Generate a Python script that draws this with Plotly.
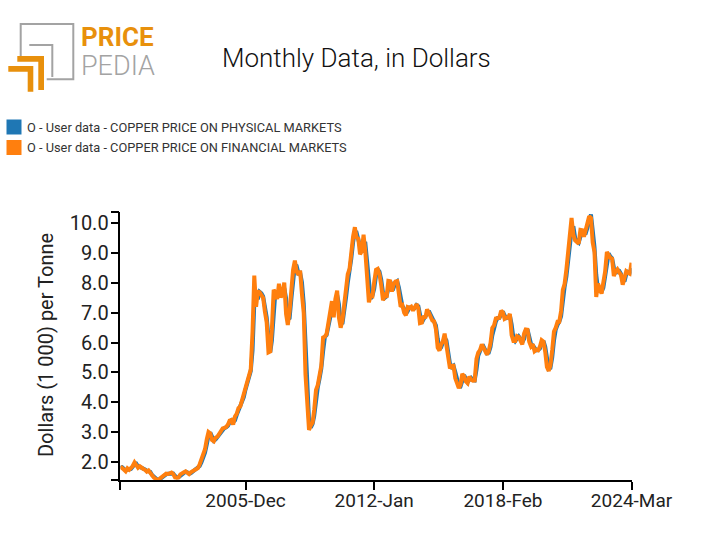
import plotly.graph_objects as go
import pandas as pd

W, H = 712, 555

# ---------------- data (thousand USD per tonne), monthly 2000-Jan .. 2024-Mar
months = pd.date_range("2000-01-01", "2024-03-01", freq="MS")

financial = [
    1.84, 1.80, 1.74, 1.68, 1.78, 1.73, 1.79, 1.86, 1.98, 1.90, 1.80, 1.85,
    1.78, 1.76, 1.73, 1.67, 1.71, 1.61, 1.52, 1.47, 1.43, 1.38, 1.42, 1.47,
    1.50, 1.56, 1.60, 1.59, 1.60, 1.64, 1.59, 1.48, 1.47, 1.48, 1.58, 1.60,
    1.65, 1.68, 1.62, 1.59, 1.65, 1.69, 1.71, 1.76, 1.79, 1.92, 2.06, 2.20,
    2.42, 2.76, 3.00, 2.95, 2.73, 2.69, 2.81, 2.84, 2.93, 3.04, 3.12, 3.14,
    3.17, 3.25, 3.38, 3.40, 3.25, 3.52, 3.61, 3.80, 3.86, 4.06, 4.27, 4.58,
    4.73, 4.98, 5.10, 6.38, 8.25, 7.20, 7.71, 7.69, 7.60, 7.50, 7.03, 6.68,
    5.67, 5.70, 6.45, 7.77, 7.66, 7.46, 7.97, 7.51, 7.65, 8.01, 6.96, 6.59,
    7.06, 7.89, 8.44, 8.75, 8.38, 8.27, 8.41, 7.63, 6.99, 4.93, 3.72, 3.07,
    3.22, 3.32, 3.75, 4.41, 4.57, 5.01, 5.22, 6.17, 6.20, 6.29, 6.68, 6.98,
    7.39, 6.85, 7.46, 7.74, 6.84, 6.50, 6.74, 7.28, 7.71, 8.29, 8.47, 9.15,
    9.56, 9.87, 9.53, 9.49, 8.96, 9.07, 9.62, 9.04, 8.30, 7.35, 7.58, 7.56,
    8.04, 8.44, 8.47, 8.29, 7.92, 7.42, 7.58, 7.51, 8.07, 8.06, 7.71, 7.96,
    8.05, 8.06, 7.65, 7.20, 7.25, 7.00, 6.91, 7.19, 7.16, 7.20, 7.07, 7.22,
    7.29, 7.15, 6.65, 6.67, 6.89, 6.82, 7.11, 7.00, 6.87, 6.74, 6.71, 6.45,
    5.83, 5.73, 5.94, 6.04, 6.30, 5.83, 5.46, 5.13, 5.22, 5.22, 4.80, 4.64,
    4.47, 4.60, 4.95, 4.87, 4.70, 4.64, 4.86, 4.75, 4.72, 4.73, 5.45, 5.66,
    5.75, 5.94, 5.82, 5.68, 5.60, 5.72, 5.98, 6.49, 6.58, 6.81, 6.83, 6.83,
    7.07, 7.01, 6.80, 6.84, 6.83, 6.96, 6.25, 6.05, 6.05, 6.22, 6.19, 6.07,
    5.94, 6.30, 6.44, 6.43, 6.03, 5.87, 5.94, 5.71, 5.76, 5.74, 5.86, 6.08,
    6.03, 5.69, 5.18, 5.05, 5.24, 5.75, 6.37, 6.50, 6.70, 6.70, 7.06, 7.77,
    7.97, 8.46, 9.00, 9.34, 10.18, 9.61, 9.43, 9.37, 9.32, 9.78, 9.77, 9.55,
    9.78, 9.94, 10.24, 10.18, 9.36, 9.03, 7.53, 7.98, 7.75, 7.64, 8.03, 8.37,
    9.04, 8.93, 8.84, 8.81, 8.23, 8.39, 8.46, 8.35, 8.27, 7.94, 8.16, 8.39,
    8.34, 8.31, 8.68,
]

physical = [
    1.80, 1.82, 1.77, 1.71, 1.73, 1.75, 1.76, 1.83, 1.92, 1.94, 1.85, 1.83,
    1.81, 1.77, 1.74, 1.70, 1.69, 1.66, 1.56, 1.50, 1.45, 1.40, 1.40, 1.45,
    1.49, 1.53, 1.58, 1.60, 1.60, 1.62, 1.61, 1.53, 1.48, 1.48, 1.53, 1.59,
    1.63, 1.67, 1.65, 1.60, 1.62, 1.67, 1.70, 1.74, 1.78, 1.86, 1.99, 2.13,
    2.31, 2.59, 2.88, 2.98, 2.84, 2.71, 2.75, 2.83, 2.89, 2.99, 3.08, 3.13,
    3.16, 3.21, 3.32, 3.39, 3.33, 3.39, 3.57, 3.71, 3.83, 3.96, 4.17, 4.43,
    4.65, 4.85, 5.04, 5.74, 7.30, 7.70, 7.45, 7.70, 7.65, 7.55, 7.27, 6.85,
    6.18, 5.68, 6.07, 7.11, 7.72, 7.56, 7.72, 7.74, 7.58, 7.83, 7.49, 6.78,
    6.82, 7.48, 8.17, 8.60, 8.57, 8.33, 8.34, 8.02, 7.31, 5.96, 4.33, 3.40,
    3.15, 3.27, 3.54, 4.08, 4.49, 4.79, 5.12, 5.70, 6.19, 6.25, 6.49, 6.83,
    7.19, 7.12, 7.16, 7.60, 7.29, 6.67, 6.62, 7.01, 7.50, 8.00, 8.38, 8.81,
    9.36, 9.72, 9.70, 9.51, 9.23, 9.02, 9.35, 9.33, 8.67, 7.83, 7.47, 7.57,
    7.80, 8.24, 8.46, 8.38, 8.11, 7.67, 7.50, 7.55, 7.79, 8.07, 7.89, 7.84,
    8.01, 8.06, 7.86, 7.43, 7.23, 7.13, 6.96, 7.05, 7.18, 7.18, 7.14, 7.15,
    7.26, 7.22, 6.90, 6.66, 6.78, 6.86, 6.97, 7.06, 6.94, 6.81, 6.73, 6.58,
    6.14, 5.78, 5.84, 5.99, 6.17, 6.07, 5.65, 5.30, 5.18, 5.22, 5.01, 4.72,
    4.56, 4.54, 4.78, 4.91, 4.79, 4.67, 4.75, 4.81, 4.74, 4.73, 5.09, 5.56,
    5.71, 5.85, 5.88, 5.75, 5.64, 5.66, 5.85, 6.24, 6.54, 6.70, 6.82, 6.83,
    6.95, 7.04, 6.91, 6.82, 6.84, 6.90, 6.61, 6.15, 6.05, 6.14, 6.21, 6.13,
    6.01, 6.12, 6.37, 6.44, 6.23, 5.95, 5.91, 5.83, 5.74, 5.75, 5.80, 5.97,
    6.06, 5.86, 5.44, 5.12, 5.15, 5.50, 6.06, 6.44, 6.60, 6.70, 6.88, 7.42,
    7.87, 8.22, 8.73, 9.17, 9.76, 9.90, 9.52, 9.40, 9.35, 9.55, 9.78, 9.66,
    9.67, 9.86, 10.09, 10.30, 9.77, 9.20, 8.28, 7.76, 7.87, 7.70, 7.84, 8.20,
    8.71, 8.99, 8.89, 8.83, 8.52, 8.31, 8.43, 8.41, 8.31, 8.11, 8.05, 8.28,
    8.37, 8.33, 8.50,
]

x_tick_dates = ["2000-01-01", "2005-12-01", "2012-01-01", "2018-02-01", "2024-03-01"]
x_tick_text = ["", "2005-Dec", "2012-Jan", "2018-Feb", "2024-Mar"]
y_range = [1.39, 10.39]
y_tick_vals = [1.39, 2, 3, 4, 5, 6, 7, 8, 9, 10, 10.39]
y_tick_text = ["", "2.0", "3.0", "4.0", "5.0", "6.0", "7.0", "8.0", "9.0", "10.0", ""]

series_names = [
    "O - User data - COPPER PRICE ON PHYSICAL MARKETS",
    "O - User data - COPPER PRICE ON FINANCIAL MARKETS",
]
BLUE = "#1f77b4"
ORANGE = "#ff7f0e"
LOGO_ORANGE = "#e8900c"
LOGO_GRAY = "#a3a3a3"
FONT = "Roboto"


def px(x):
    return x / W


def py(y):
    return 1 - y / H


def path(points, close=False):
    s = "M " + " L ".join(f"{px(x):.5f},{py(y):.5f}" for x, y in points)
    return s + (" Z" if close else "")


fig = go.Figure()
fig.add_trace(go.Scatter(x=months, y=physical, mode="lines", name=series_names[0],
                         line=dict(color=BLUE, width=4), showlegend=False))
fig.add_trace(go.Scatter(x=months, y=financial, mode="lines", name=series_names[1],
                         line=dict(color=ORANGE, width=4), showlegend=False))

shapes = []
annotations = []

# ---- logo
shapes.append(dict(type="path", xref="paper", yref="paper",
                   path=path([(20.7, 56.7), (20.7, 24), (73.3, 24), (73.3, 79.3), (46.7, 79.3)]),
                   line=dict(color=LOGO_GRAY, width=2)))
shapes.append(dict(type="path", xref="paper", yref="paper",
                   path=path([(29.3, 45), (52.3, 45), (52.3, 77)]),
                   line=dict(color=LOGO_GRAY, width=2)))
shapes.append(dict(type="path", xref="paper", yref="paper",
                   path=path([(17.3, 56), (44, 56), (44, 90), (38.3, 90), (38.3, 61.7), (17.3, 61.7)], True),
                   fillcolor=LOGO_ORANGE, line=dict(width=0)))
shapes.append(dict(type="path", xref="paper", yref="paper",
                   path=path([(8.3, 66), (33.3, 66), (33.3, 91.7), (27.7, 91.7), (27.7, 71.7), (8.3, 71.7)], True),
                   fillcolor=LOGO_ORANGE, line=dict(width=0)))
annotations.append(dict(text="<b>PRICE</b>", x=px(79), y=py(37.5), xref="paper", yref="paper",
                        xanchor="left", yanchor="middle", showarrow=False,
                        font=dict(family=FONT, size=26, color=LOGO_ORANGE)))
annotations.append(dict(text="PEDIA", x=px(79), y=py(65.5), xref="paper", yref="paper",
                        xanchor="left", yanchor="middle", showarrow=False,
                        font=dict(family=FONT, size=27, color=LOGO_GRAY, weight=300)))

# ---- title
annotations.append(dict(text="Monthly Data, in Dollars", x=px(356), y=py(58), xref="paper", yref="paper",
                        xanchor="center", yanchor="middle", showarrow=False,
                        font=dict(family=FONT, size=26, color="#111", weight=300)))

# ---- legend (square swatches)
for i, (name, col) in enumerate(zip(series_names, [BLUE, ORANGE])):
    yc = 127 + i * 20.5
    shapes.append(dict(type="rect", xref="paper", yref="paper",
                       x0=px(6.5), x1=px(21.5), y0=py(yc - 7.5), y1=py(yc + 7.5),
                       fillcolor=col, line=dict(width=0)))
    annotations.append(dict(text=name, x=px(25), y=py(yc), xref="paper", yref="paper",
                            xanchor="left", yanchor="middle", showarrow=False,
                            font=dict(family=FONT, size=12.8, color="#333")))

# ---- y axis title
annotations.append(dict(text="Dollars (1 000) per Tonne", x=px(46), y=py(345), xref="paper", yref="paper",
                        xanchor="center", yanchor="middle", showarrow=False, textangle=-90,
                        font=dict(family=FONT, size=20, color="#222")))

fig.update_layout(
    template="none",
    width=W, height=H, autosize=False,
    margin=dict(l=0, r=0, t=0, b=0, pad=0, autoexpand=False),
    paper_bgcolor="white", plot_bgcolor="white",
    font=dict(family=FONT, color="#222"),
    shapes=shapes, annotations=annotations,
    xaxis=dict(domain=[px(120.4), px(631.5)], type="date", automargin=False,
               range=["2000-01-01", "2024-03-01"],
               tickmode="array", tickvals=x_tick_dates, ticktext=x_tick_text,
               ticks="outside", ticklen=8, tickwidth=1.5, tickcolor="black",
               ticklabelstandoff=-6,
               showline=True, linecolor="black", linewidth=1.5,
               showgrid=False, zeroline=False,
               tickfont=dict(family=FONT, size=19, color="#222")),
    yaxis=dict(domain=[py(480), py(211.7)], range=y_range, automargin=False,
               tickmode="array", tickvals=y_tick_vals, ticktext=y_tick_text,
               ticks="outside", ticklen=8, tickwidth=1.5, tickcolor="black",
               ticklabelstandoff=-2,
               showline=True, linecolor="black", linewidth=1.5,
               showgrid=False, zeroline=False,
               tickfont=dict(family=FONT, size=20, color="#222")),
    showlegend=False,
)

fig.write_html("out.html", config={"displayModeBar": False},
               post_script="document.body.style.margin='0';")
